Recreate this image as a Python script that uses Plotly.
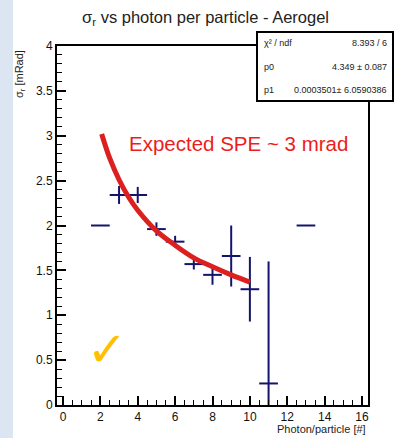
import plotly.graph_objects as go

# measured points (bin centre, sigma_r, errors)
photons = [2, 3, 4, 5, 6, 7, 8, 9, 10, 11, 13]
sigma_r = [2.00, 2.34, 2.34, 1.96, 1.82, 1.57, 1.45, 1.66, 1.29, 0.24, 2.00]
err_y = [0.0, 0.10, 0.09, 0.075, 0.065, 0.06, 0.11, 0.34, 0.36, 1.36, 0.0]
err_x = [0.5] * 11

# fitted curve
fit_x = [2.07, 2.5, 3, 3.5, 4, 5, 6, 7, 8, 9, 10]
fit_y = [3.02, 2.75, 2.51, 2.32, 2.17, 1.94, 1.78, 1.64, 1.54, 1.45, 1.37]

stats_rows = [("χ² / ndf", "8.393 / 6"), ("p0", "4.349 ± 0.087"), ("p1", "0.0003501± 6.0590386")]

W, H = 395, 438
L, R, T, B = 57, 368, 46, 405


def px(x):
    return (x - L) / (R - L)


def py(y):
    return (B - y) / (B - T)


navy = "#14146e"
fig = go.Figure()

fig.add_trace(go.Scatter(
    x=photons, y=sigma_r, mode="markers",
    marker=dict(size=1, color=navy, opacity=0),
    error_x=dict(type="data", array=err_x, color=navy, thickness=2, width=0),
    error_y=dict(type="data", array=err_y, color=navy, thickness=2, width=0),
    showlegend=False,
))
fig.add_trace(go.Scatter(
    x=fit_x, y=fit_y, mode="lines", line=dict(color="#dc1f1f", width=5, shape="spline"),
    showlegend=False,
))

axis_common = dict(
    showline=True, linecolor="black", linewidth=2, mirror=True,
    showgrid=False, zeroline=False, ticks="inside", ticklen=9, tickwidth=1.5,
    tickcolor="black", tickfont=dict(family="Liberation Sans", size=12, color="#111"),
)
fig.update_xaxes(range=[-0.32, 16.32], tickvals=list(range(0, 17, 2)),
                 minor=dict(ticks="inside", dtick=0.5, ticklen=5, tickwidth=1.2, tickcolor="black"),
                 **axis_common)
fig.update_yaxes(range=[0, 4], dtick=0.5,
                 minor=dict(ticks="inside", dtick=0.1, ticklen=5, tickwidth=1.2, tickcolor="black"),
                 **axis_common)

shapes = [
    # slide background strip on the left
    dict(type="rect", xref="paper", yref="paper", x0=px(0), x1=px(13), y0=py(H), y1=py(0),
         fillcolor="#dce6f2", line=dict(width=0), layer="below"),
    # stats box
    dict(type="rect", xref="paper", yref="paper", x0=px(257), x1=px(393), y0=py(101), y1=py(32),
         fillcolor="white", line=dict(color="black", width=2)),
]

annotations = [
    dict(text="σ<sub>r</sub> vs photon per particle - Aerogel", xref="paper", yref="paper",
         x=px(205), y=py(18), showarrow=False, xanchor="center", yanchor="middle",
         font=dict(family="Liberation Sans", size=16.5, color="#222")),
    dict(text="σ<sub>r</sub> [mRad]", xref="paper", yref="paper", x=px(20), y=py(48),
         textangle=-90, showarrow=False, xanchor="center", yanchor="top",
         font=dict(family="Liberation Sans", size=11, color="#222")),
    dict(text="Photon/particle [#]", xref="paper", yref="paper", x=px(368), y=py(429),
         showarrow=False, xanchor="right", yanchor="middle",
         font=dict(family="Liberation Sans", size=11, color="#222")),
    dict(text="Expected SPE ~ 3 mrad", xref="paper", yref="paper", x=px(127), y=py(143),
         showarrow=False, xanchor="left", yanchor="middle",
         font=dict(family="Liberation Sans", size=20.5, color="#ee1c1c")),
    dict(text="✓", xref="paper", yref="paper", x=px(107), y=py(349),
         showarrow=False, xanchor="center", yanchor="middle",
         font=dict(family="DejaVu Sans", size=48, color="#ffc000")),
]

row_y = [43, 67, 90]
for (name, val), yy in zip(stats_rows, row_y):
    annotations.append(dict(text=name, xref="paper", yref="paper", x=px(262), y=py(yy),
                            showarrow=False, xanchor="left", yanchor="middle",
                            font=dict(family="Liberation Sans", size=9, color="#222")))
    annotations.append(dict(text=val, xref="paper", yref="paper", x=px(389), y=py(yy),
                            showarrow=False, xanchor="right", yanchor="middle",
                            font=dict(family="Liberation Sans", size=9, color="#222")))

fig.update_layout(
    width=W, height=H,
    margin=dict(l=L, r=W - R, t=T, b=H - B),
    paper_bgcolor="white", plot_bgcolor="white",
    shapes=shapes, annotations=annotations,
)

# drop the page's default body margin so the figure sits at the window corner
fig.write_html("out.html", config={"displayModeBar": False},
               post_script="document.body.style.margin='0';")
